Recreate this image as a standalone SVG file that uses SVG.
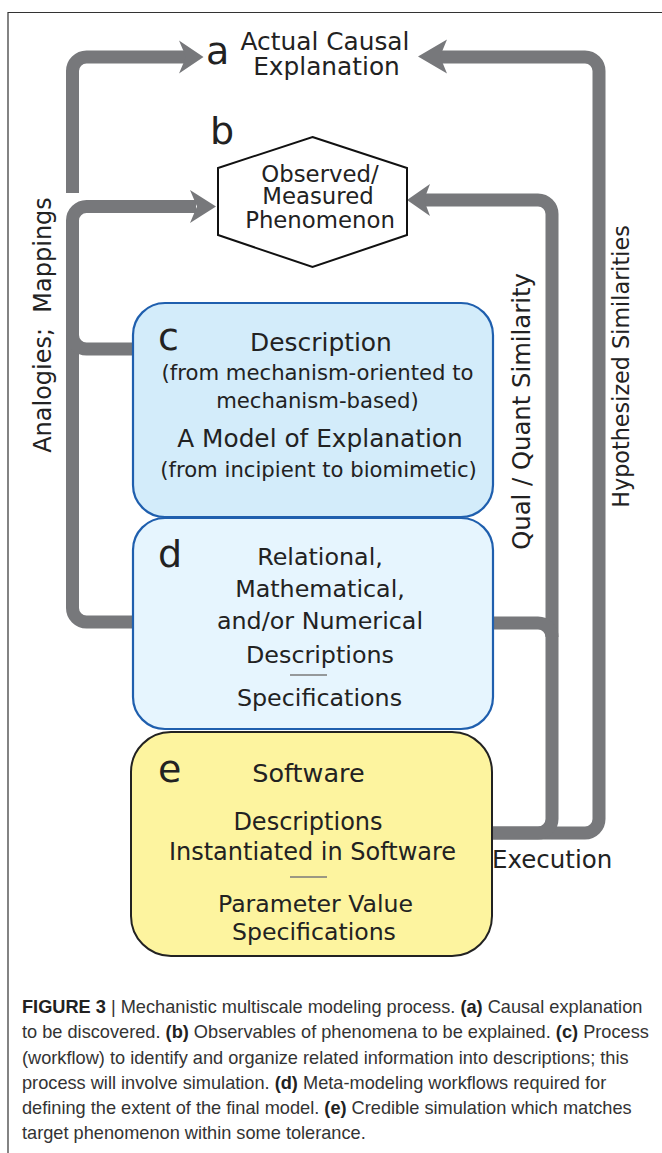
<svg xmlns="http://www.w3.org/2000/svg" width="662" height="1153" viewBox="0 0 662 1153">
<style>
.t{font-family:"DejaVu Sans","Noto Sans",sans-serif;fill:#222;text-anchor:middle}
.lt{font-family:"DejaVu Sans","Noto Sans",sans-serif;fill:#222;font-size:38px}
.pipe{fill:none;stroke:#77787b;stroke-width:13}
.arr{fill:#77787b}
.sep{stroke:#7a7a7a;stroke-width:1.5}
.cap{font-family:"Liberation Sans",Arial,sans-serif;font-size:18.2px;fill:#333}
.cap .b{font-weight:bold;fill:#222}
</style>
<rect width="662" height="1153" fill="#fff"/>
<path d="M8,1153 V12.5 H662" fill="none" stroke="#333" stroke-width="1.2"/>

<g id="connectors">
  <path class="pipe" d="M72.5,193 V71 A14,14 0 0 1 86.5,57 H187"/>
  <polygon class="arr" points="203.5,57 179,40.5 186,57 179,73.5"/>
  <path class="pipe" d="M134,622 H86.5 A14,14 0 0 1 72.5,608 V220.5 A14,14 0 0 1 86.5,206.5 H196"/>
  <polygon class="arr" points="216,206.5 190,190 197,206.5 190,223"/>
  <path class="pipe" d="M134,349 H86.5 A14,14 0 0 1 72.5,335"/>
  <path class="pipe" d="M492,833 H585 A14,14 0 0 0 599,819 V71 A14,14 0 0 0 585,57 H440"/>
  <polygon class="arr" points="418,56.5 447,39.5 440,56.5 447,73.5"/>
  <path class="pipe" d="M492,833 H538 A14,14 0 0 0 552,819 V214 A14,14 0 0 0 538,200 H424"/>
  <polygon class="arr" points="407,200 430,184 424,200 430,216"/>
  <path class="pipe" d="M492,623 H538 A14,14 0 0 1 552,637"/>
</g>

<g id="labels">
  <text class="t" font-size="24" transform="translate(51,325) rotate(-90)">Analogies;&#160; Mappings</text>
  <text class="t" font-size="24.3" transform="translate(530,411.5) rotate(-90)">Qual / Quant Similarity</text>
  <text class="t" font-size="22.3" transform="translate(628.5,366.5) rotate(-90)">Hypothesized Similarities</text>
  <text class="t" font-size="24.5" x="492" y="868" style="text-anchor:start">Execution</text>
</g>

<g id="node-a">
  <text class="lt" x="206" y="64">a</text>
  <text class="t" font-size="24.8"><tspan x="325" y="50">Actual Causal</tspan><tspan x="326.5" y="75">Explanation</tspan></text>
</g>

<g id="node-b">
  <text class="lt" x="210" y="144">b</text>
  <polygon points="312.5,137 407,168 407,235 312.5,267 218,235 218,168" fill="#fff" stroke="#111" stroke-width="2"/>
  <text class="t" font-size="22.8"><tspan x="320" y="182">Observed/</tspan><tspan x="318" y="204">Measured</tspan><tspan x="320" y="228">Phenomenon</tspan></text>
</g>

<g id="node-c">
  <rect x="133" y="303" width="360" height="214" rx="32" fill="#d3ecfa" stroke="#1f5fae" stroke-width="2.2"/>
  <text class="lt" x="158" y="350">c</text>
  <text class="t" font-size="24.9" x="321" y="351">Description</text>
  <text class="t" font-size="21.2"><tspan x="317.5" y="380">(from mechanism-oriented to</tspan><tspan x="317.5" y="408">mechanism-based)</tspan></text>
  <text class="t" font-size="24.8" x="320" y="447">A Model of Explanation</text>
  <text class="t" font-size="21.2" x="318.5" y="477">(from incipient to biomimetic)</text>
</g>

<g id="node-d">
  <rect x="133" y="518" width="360" height="211" rx="32" fill="#e6f5fe" stroke="#1f5fae" stroke-width="2.2"/>
  <text class="lt" x="158" y="567">d</text>
  <text class="t" font-size="23.8"><tspan x="320" y="565">Relational,</tspan><tspan x="320" y="597">Mathematical,</tspan><tspan x="320" y="629">and/or Numerical</tspan><tspan x="320" y="663">Descriptions</tspan></text>
  <line class="sep" x1="290" y1="675" x2="327" y2="675"/>
  <text class="t" font-size="23.8" x="319.5" y="706">Specifications</text>
</g>

<g id="node-e">
  <rect x="131" y="732" width="361" height="224" rx="40" fill="#fdf49f" stroke="#222" stroke-width="2"/>
  <text class="lt" x="158" y="782">e</text>
  <text class="t" font-size="25.5" x="308.5" y="782">Software</text>
  <text class="t" font-size="24"><tspan x="308" y="830">Descriptions</tspan><tspan x="312.5" y="860">Instantiated in Software</tspan></text>
  <line class="sep" x1="290" y1="877" x2="327" y2="877"/>
  <text class="t" font-size="23.6"><tspan x="315.5" y="912">Parameter Value</tspan><tspan x="314" y="940">Specifications</tspan></text>
</g>

<g id="caption" class="cap">
  <text x="22" y="1013"><tspan class="b">FIGURE 3</tspan> | Mechanistic multiscale modeling process. <tspan class="b">(a)</tspan> Causal explanation</text>
  <text x="22" y="1038">to be discovered. <tspan class="b">(b)</tspan> Observables of phenomena to be explained. <tspan class="b">(c)</tspan> Process</text>
  <text x="22" y="1063.5">(workflow) to identify and organize related information into descriptions; this</text>
  <text x="22" y="1088.5">process will involve simulation. <tspan class="b">(d)</tspan> Meta-modeling workflows required for</text>
  <text x="22" y="1113.5">defining the extent of the final model. <tspan class="b">(e)</tspan> Credible simulation which matches</text>
  <text x="22" y="1139">target phenomenon within some tolerance.</text>
</g>
</svg>
